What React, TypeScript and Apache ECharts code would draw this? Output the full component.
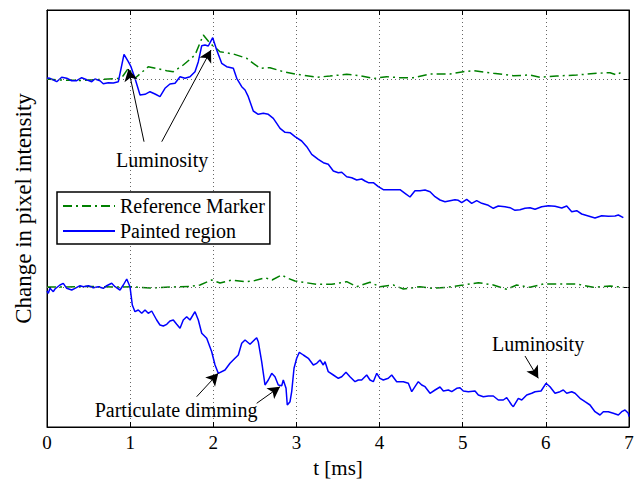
import React, { useEffect, useRef } from "react";
import * as echarts from "echarts";

// t [ms], change (relative to each trace's own baseline)
const topPainted: [number, number][] = [
  [0.0, 0.1], [0.036, 0.07], [0.117, -0.27], [0.177, 0.17], [0.237, 0.07], [0.297, -0.17], [0.357, -0.17],
  [0.417, 0.13], [0.478, -0.07], [0.538, -0.27], [0.577, 0], [0.637, -0.17], [0.677, -0.47], [0.737, -0.37],
  [0.797, -0.4], [0.858, -0.27], [0.926, 2.47], [0.978, 1.73], [1.01, 1.23], [1.058, 0.07], [1.119, -1.6],
  [1.179, -1.53], [1.239, -1.27], [1.299, -1.5], [1.359, -1.77], [1.419, -0.93], [1.479, -0.5], [1.54, -0.43],
  [1.6, 0.23], [1.66, 0.07], [1.72, 0.23], [1.78, 0.73], [1.82, 1.73], [1.861, 3.33], [1.9, 3.4], [1.94, 3.3],
  [1.993, 4.13], [2.041, 2.9], [2.101, 1.57], [2.161, 1.23], [2.241, 1.07], [2.282, 0.07], [2.342, -0.77],
  [2.382, -1.1], [2.421, -1.77], [2.481, -3.2], [2.541, -3.53], [2.602, -3.43], [2.662, -3.53], [2.722, -3.93],
  [2.763, -4.43], [2.803, -4.93], [2.863, -5.33], [2.923, -5.37], [2.983, -5.77], [3.063, -6.2], [3.124, -6.77],
  [3.184, -7.53], [3.263, -8.03], [3.324, -8.37], [3.383, -8.53], [3.444, -9.2], [3.504, -9.37], [3.545, -9.33],
  [3.605, -9.77], [3.665, -9.87], [3.725, -10.1], [3.785, -10.0], [3.825, -10.2], [3.865, -10.37], [3.925, -10.37],
  [3.985, -10.77], [4.045, -11.07], [4.165, -11.07], [4.246, -11.07], [4.306, -11.43], [4.366, -11.8], [4.426, -11.17],
  [4.486, -11.17], [4.547, -11.1], [4.607, -11.27], [4.667, -11.77], [4.727, -12.1], [4.787, -12.27], [4.847, -12.17],
  [4.907, -12.07], [4.947, -12.13], [4.988, -12.37], [5.048, -12.03], [5.108, -12.43], [5.168, -12.17], [5.229, -12.43],
  [5.308, -12.63], [5.368, -12.93], [5.428, -12.7], [5.509, -12.77], [5.569, -12.87], [5.629, -13.13], [5.689, -13.07],
  [5.749, -12.93], [5.809, -12.87], [5.87, -13.03], [5.95, -12.77], [6.03, -12.67], [6.11, -12.73], [6.191, -12.9],
  [6.251, -12.7], [6.311, -13.27], [6.371, -13.17], [6.431, -13.5], [6.511, -13.7], [6.591, -13.9], [6.672, -13.67],
  [6.751, -13.73], [6.832, -13.7], [6.872, -13.6], [6.932, -13.87],
];

const topReference: [number, number][] = [
  [0, 0], [0.156, -0.1], [0.397, -0.15], [0.637, -0.05], [0.854, 0.05], [0.914, 0.3], [0.978, 1.07], [1.058, 0.07],
  [1.218, 1.23], [1.44, 0.83], [1.519, 0.73], [1.639, 1.4], [1.78, 2.4], [1.88, 4.4], [1.961, 3.57], [2.081, 2.73],
  [2.241, 2.5], [2.402, 2.07], [2.442, 1.8], [2.562, 1.07], [2.682, 1.13], [2.842, 0.73], [3.003, 0.47], [3.124, 0.33],
  [3.244, 0.17], [3.404, 0.3], [3.605, 0.47], [3.765, 0.33], [3.925, 0.05], [4.086, 0.23], [4.246, 0.13], [4.406, 0.13],
  [4.607, 0.5], [4.847, 0.5], [5.007, 0.73], [5.128, 0.83], [5.368, 0.57], [5.609, 0.33], [5.809, 0.4], [5.93, 0.17],
  [6.131, 0.3], [6.371, 0.4], [6.612, 0.57], [6.772, 0.63], [6.852, 0.4], [6.932, 0.83],
];

const bottomPainted: [number, number][] = [
  [0.0, -0.4], [0.016, -0.63], [0.036, -0.13], [0.076, -0.47], [0.096, -0.2], [0.156, 0.2], [0.196, 0.37], [0.237, -0.13],
  [0.297, -0.3], [0.337, -0.13], [0.397, 0.13], [0.437, 0.03], [0.497, 0.13], [0.557, -0.07], [0.617, 0.03],
  [0.677, -0.13], [0.718, 0.13], [0.778, 0.37], [0.818, 0.03], [0.878, -0.3], [0.918, 0.2], [0.959, 0.8], [0.998, 0.03],
  [1.026, -1.8], [1.058, -2.47], [1.098, -2.3], [1.139, -2.63], [1.179, -2.3], [1.218, -2.63], [1.259, -2.4],
  [1.319, -3.3], [1.359, -3.8], [1.399, -3.9], [1.44, -3.73], [1.479, -3.4], [1.519, -3.3], [1.56, -3.73], [1.6, -4.13],
  [1.639, -3.3], [1.68, -2.97], [1.72, -3.3], [1.78, -2.47], [1.82, -3.3], [1.861, -4.63], [1.921, -5.13],
  [1.981, -6.47], [2.021, -7.8], [2.06, -8.63], [2.141, -8.3], [2.201, -7.63], [2.261, -7.13], [2.301, -6.8],
  [2.342, -5.63], [2.382, -5.3], [2.442, -5.73], [2.481, -5.4], [2.522, -5.07], [2.541, -5.47], [2.582, -7.47],
  [2.622, -9.8], [2.662, -9.3], [2.703, -8.63], [2.742, -8.97], [2.782, -9.8], [2.823, -9.87], [2.842, -9.3],
  [2.875, -10.13], [2.89, -11.8], [2.923, -11.47], [2.943, -10.47], [2.971, -8.13], [3.003, -7.13], [3.035, -6.53],
  [3.083, -6.8], [3.143, -7.13], [3.203, -7.8], [3.244, -7.63], [3.284, -7.3], [3.323, -7.8], [3.344, -7.47],
  [3.383, -8.47], [3.444, -8.8], [3.504, -9.13], [3.545, -8.97], [3.596, -8.53], [3.644, -8.97], [3.705, -9.47],
  [3.744, -9.3], [3.785, -9.3], [3.845, -8.8], [3.885, -9.3], [3.925, -9.47], [3.966, -8.63], [4.005, -9.13],
  [4.045, -9.3], [4.105, -9.13], [4.146, -8.8], [4.206, -9.47], [4.286, -9.47], [4.346, -9.63], [4.387, -10.47],
  [4.426, -9.97], [4.466, -9.47], [4.507, -9.8], [4.547, -9.97], [4.607, -10.63], [4.667, -10.3], [4.727, -10.0],
  [4.767, -10.4], [4.827, -10.3], [4.868, -10.47], [4.928, -10.13], [4.967, -10.07], [5.007, -10.4], [5.067, -10.47],
  [5.148, -10.4], [5.188, -10.8], [5.248, -10.97], [5.308, -10.9], [5.368, -10.9], [5.428, -11.3], [5.488, -11.3],
  [5.529, -11.07], [5.589, -11.8], [5.609, -11.97], [5.669, -11.13], [5.71, -11.3], [5.77, -10.8], [5.83, -10.63],
  [5.87, -10.47], [5.942, -10.4], [6.002, -9.63], [6.05, -9.97], [6.11, -10.63], [6.17, -10.47], [6.21, -10.3],
  [6.251, -10.63], [6.311, -10.47], [6.351, -10.63], [6.411, -11.13], [6.471, -11.47], [6.531, -11.8], [6.591, -12.47],
  [6.651, -12.8], [6.691, -12.47], [6.751, -12.47], [6.811, -12.63], [6.872, -12.8], [6.912, -12.47], [6.952, -12.3],
  [6.992, -12.63], [7.0, -12.97],
];

const bottomReference: [number, number][] = [
  [0, 0], [0.156, 0], [0.517, 0.05], [0.878, 0], [1.019, 0.03], [1.239, -0.1], [1.479, 0], [1.72, 0.05], [1.84, 0.2],
  [1.981, 0.7], [2.081, 0.4], [2.222, 0.7], [2.382, 0.53], [2.481, 0.6], [2.622, 0.93], [2.707, 0.7], [2.823, 1.2],
  [2.887, 0.9], [2.983, 0.6], [3.083, 0.47], [3.244, 0.27], [3.424, 0.27], [3.605, 0.53], [3.725, 0.03], [3.885, 0.47],
  [4.005, 0.03], [4.165, 0.2], [4.286, -0.2], [4.486, 0.03], [4.627, -0.13], [4.808, -0.03], [5.007, 0.2],
  [5.188, 0.43], [5.368, 0.2], [5.529, -0.23], [5.649, 0.2], [5.809, -0.03], [5.969, 0.3], [6.17, 0.3], [6.371, 0.3],
  [6.571, -0.03], [6.772, 0.1], [6.932, -0.03],
];

const xTicks = [0, 1, 2, 3, 4, 5, 6, 7];
const TOP_OFFSET = 20.8;
const Y_MIN = -14.0;
const Y_MAX = 27.7;

// annotations: text labels and arrows (from -> to) in data units
const annotationTexts: { name: string; coord: [number, number] }[] = [
  { name: "Luminosity", coord: [1.384, 12.7] },
  { name: "Particulate dimming", coord: [1.552, -12.3] },
  { name: "Luminosity", coord: [5.906, -5.7] },
];
const annotationArrows: [number, number][][] = [
  [[1.167, 14.53], [0.98, 21.8]],
  [[1.38, 14.53], [1.973, 23.7]],
  [[1.8, -10.97], [2.06, -8.63]],
  [[2.522, -11.63], [2.803, -9.97]],
  [[5.749, -6.9], [5.909, -9.13]],
];

const FONT = '"Liberation Serif", "Times New Roman", serif';
const ANNOT_FONT = "20px Times, serif";
const GREEN = "#008000";
const BLUE = "#0000ff";
const DASHDOT = [9, 4, 2, 4];

export default function App() {
  const ref = useRef<HTMLDivElement>(null);
  useEffect(() => {
    if (!ref.current) return;
    const chart = echarts.init(ref.current, null, { renderer: "svg" });
    const shift = (arr: [number, number][]) => arr.map(([t, v]) => [t, +(v + TOP_OFFSET).toFixed(3)]);
    const dotted = { color: "#666", width: 1, type: [1, 3] as any };
    chart.setOption({
      animation: false,
      backgroundColor: "#fff",
      textStyle: { fontFamily: FONT },
      grid: { left: 47, right: 9, top: 10, bottom: 57, show: true, borderColor: "#000", borderWidth: 1, containLabel: false },
      legend: {
        left: 57,
        top: 192,
        orient: "vertical",
        data: ["Reference Marker", "Painted region"],
        backgroundColor: "#fff",
        borderColor: "#000",
        borderWidth: 1.5,
        borderRadius: 0,
        padding: [4, 5, 3, 5],
        itemGap: 5,
        itemWidth: 52,
        itemHeight: 12,
        itemStyle: { opacity: 0 },
        textStyle: { fontFamily: FONT, fontSize: 20, color: "#000" },
      },
      xAxis: [
        {
          type: "value",
          min: 0,
          max: 7,
          interval: 1,
          name: "t [ms]",
          nameLocation: "middle",
          nameGap: 30,
          nameTextStyle: { fontFamily: FONT, fontSize: 21, color: "#000" },
          axisLine: { onZero: false, lineStyle: { color: "#000" } },
          axisTick: { inside: true, length: 5, lineStyle: { color: "#000" } },
          axisLabel: {
            fontFamily: FONT,
            fontSize: 19,
            color: "#000",
            margin: 6,
            formatter: (v: number) => (xTicks.includes(v) ? String(v) : ""),
          },
          splitLine: { show: true, lineStyle: dotted },
        },
        {
          type: "value",
          position: "top",
          min: 0,
          max: 7,
          interval: 1,
          axisLine: { show: true, onZero: false, lineStyle: { color: "#000" } },
          axisTick: { show: true, inside: true, length: 5, lineStyle: { color: "#000" } },
          axisLabel: { show: false },
          splitLine: { show: false },
        },
      ],
      yAxis: [
        {
          type: "value",
          min: Y_MIN,
          max: Y_MAX,
          name: "Change in pixel intensity",
          nameLocation: "middle",
          nameGap: 12,
          nameRotate: 90,
          nameTextStyle: { fontFamily: FONT, fontSize: 23, color: "#000", padding: [0, 0, 0, 20] },
          axisLine: { show: true, onZero: false, lineStyle: { color: "#000" } },
          axisTick: { show: true, inside: true, length: 5, customValues: [0, TOP_OFFSET], lineStyle: { color: "#000" } },
          axisLabel: { show: false },
          splitLine: { show: false },
        },
        {
          type: "value",
          position: "right",
          min: Y_MIN,
          max: Y_MAX,
          axisLine: { show: true, onZero: false, lineStyle: { color: "#000" } },
          axisTick: { show: true, inside: true, length: 5, customValues: [0, TOP_OFFSET], lineStyle: { color: "#000" } },
          axisLabel: { show: false },
          splitLine: { show: false },
        },
      ],
      series: [
        {
          name: "Reference Marker",
          type: "line",
          data: shift(topReference),
          showSymbol: false,
          symbol: "none",
          lineStyle: { color: GREEN, width: 1.5, type: DASHDOT },
          itemStyle: { color: GREEN },
          z: 3,
          markLine: {
            silent: true,
            symbol: "none",
            label: { show: false },
            lineStyle: dotted,
            data: [{ yAxis: 0 }, { yAxis: TOP_OFFSET }],
          },
        },
        {
          name: "Painted region",
          type: "line",
          data: shift(topPainted),
          showSymbol: false,
          symbol: "none",
          lineStyle: { color: BLUE, width: 1.5 },
          itemStyle: { color: BLUE },
          z: 4,
        },
        {
          name: "Reference Marker",
          type: "line",
          data: bottomReference,
          showSymbol: false,
          symbol: "none",
          lineStyle: { color: GREEN, width: 1.5, type: DASHDOT },
          itemStyle: { color: GREEN },
          z: 3,
        },
        {
          name: "Painted region",
          type: "line",
          data: bottomPainted,
          showSymbol: false,
          symbol: "none",
          lineStyle: { color: BLUE, width: 1.5 },
          itemStyle: { color: BLUE },
          z: 4,
          markLine: {
            silent: true,
            symbol: ["none", "arrow"],
            symbolSize: [10, 12],
            label: { show: false },
            lineStyle: { color: "#000", width: 1, type: "solid" },
            data: annotationArrows.map(([a, b]) => [{ coord: a }, { coord: b }]),
          },
        },
      ],
    });
    // annotation texts placed through the axes' own scale
    const graphics = annotationTexts.map((a) => {
      const p = chart.convertToPixel({ xAxisIndex: 0, yAxisIndex: 0 }, a.coord) as number[];
      return {
        type: "text",
        x: p[0],
        y: p[1],
        z: 10,
        style: { text: a.name, font: ANNOT_FONT, fill: "#000", textAlign: "center", textVerticalAlign: "middle" },
      };
    });
    chart.setOption({ graphic: graphics });
    return () => chart.dispose();
  }, []);
  return <div ref={ref} style={{ width: 638, height: 484, position: "absolute", left: 0, top: 0 }} />;
}
